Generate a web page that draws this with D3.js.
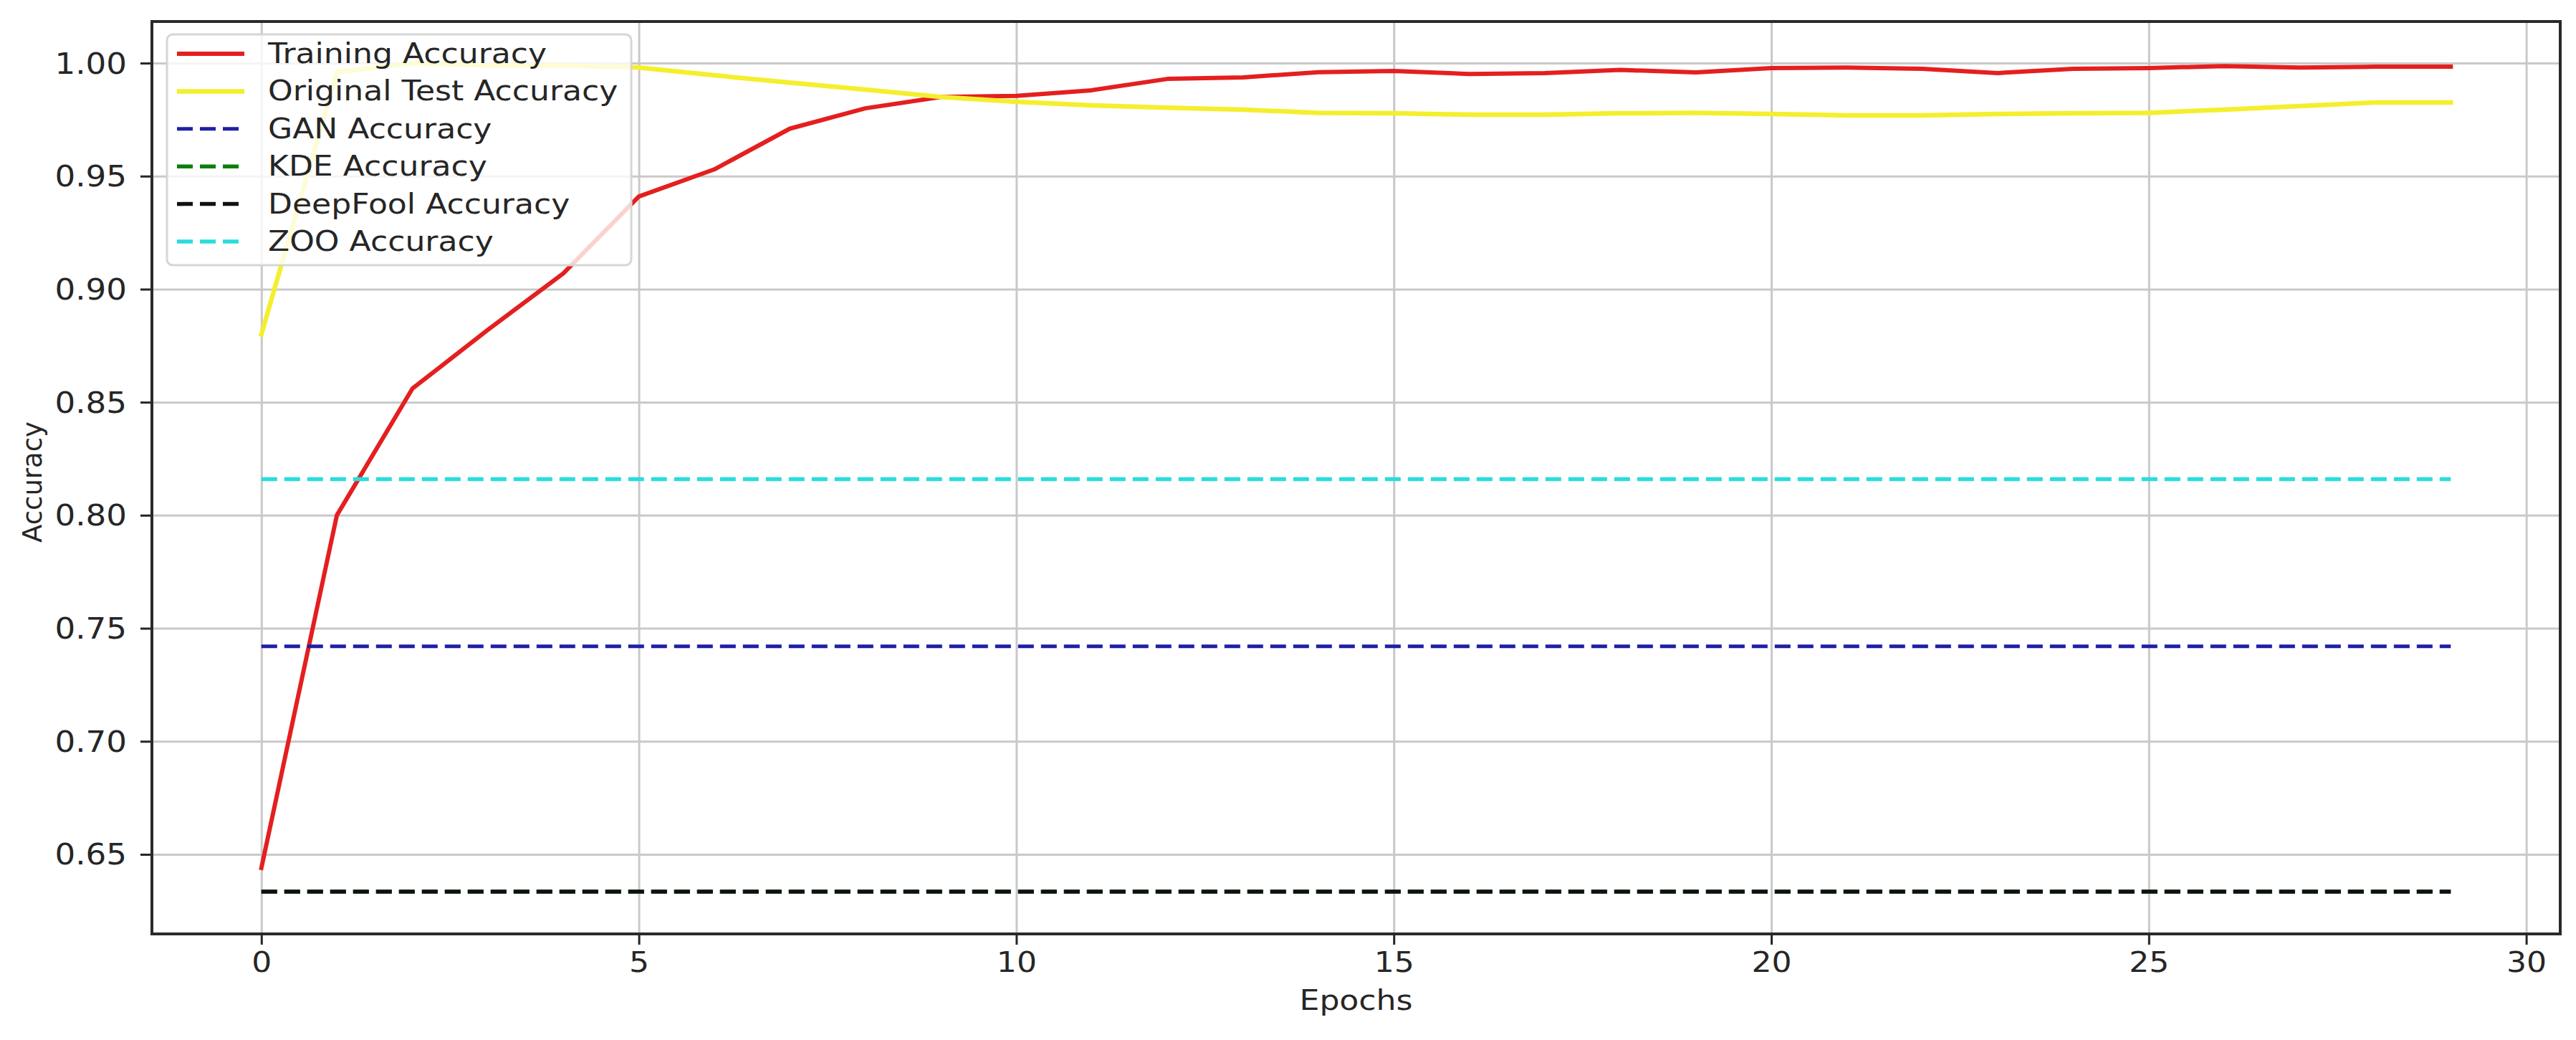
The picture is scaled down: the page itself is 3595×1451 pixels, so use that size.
<!DOCTYPE html>
<html>
<head>
<meta charset="utf-8">
<script src="https://cdn.jsdelivr.net/npm/d3@7"></script>
<style>
  html, body { margin: 0; padding: 0; background: #ffffff; }
  svg { display: block; }
  text { font-family: "DejaVu Sans", sans-serif; fill: #262626; }
</style>
</head>
<body>
<svg id="chart" width="3595" height="1451"></svg>
<script>
// ---------- DATA ----------
const epochs = [0,1,2,3,4,5,6,7,8,9,10,11,12,13,14,15,16,17,18,19,20,21,22,23,24,25,26,27,28,29];
const trainingAccuracy = [0.644, 0.800, 0.856, 0.882, 0.907, 0.941, 0.953, 0.971, 0.980, 0.985,
  0.9855, 0.988, 0.993, 0.9937, 0.996, 0.9965, 0.9952, 0.9956, 0.997, 0.9959,
  0.9978, 0.998, 0.9975, 0.9956, 0.9975, 0.9978, 0.9987, 0.998, 0.9984, 0.9984];
const originalTestAccuracy = [0.880, 0.996, 1.000, 0.999, 0.999, 0.998, 0.9946, 0.9914, 0.9883, 0.985,
  0.9829, 0.9813, 0.9803, 0.9794, 0.978, 0.9778, 0.9772, 0.9772, 0.9778, 0.978,
  0.9775, 0.9769, 0.9769, 0.9775, 0.9778, 0.978, 0.9794, 0.981, 0.9826, 0.9826];
const ganAccuracy = 0.742;
const kdeAccuracy = 0.6335;
const deepFoolAccuracy = 0.6335;
const zooAccuracy = 0.816;

const xTicks = [0, 5, 10, 15, 20, 25, 30];
const yTicks = [0.65, 0.70, 0.75, 0.80, 0.85, 0.90, 0.95, 1.00];
const xLabel = "Epochs";
const yLabel = "Accuracy";

const series = [
  { name: "Training Accuracy",      values: trainingAccuracy,                         color: "#e41f1f", dash: null, width: 6 },
  { name: "Original Test Accuracy", values: originalTestAccuracy,                     color: "#f4ef2e", dash: null, width: 6.5 },
  { name: "GAN Accuracy",           values: epochs.map(() => ganAccuracy),            color: "#1f1fa6", dash: "22,10", width: 5 },
  { name: "KDE Accuracy",           values: epochs.map(() => kdeAccuracy),            color: "#0a800a", dash: "22,10", width: 5.5 },
  { name: "DeepFool Accuracy",      values: epochs.map(() => deepFoolAccuracy),       color: "#111111", dash: "22,10", width: 5.5 },
  { name: "ZOO Accuracy",           values: epochs.map(() => zooAccuracy),            color: "#2adcdc", dash: "22,10", width: 5.5 }
];

// ---------- LAYOUT ----------
const L = 212, R = 3573, T = 30, B = 1303;
const SX = 1.13;      // horizontal glyph stretch seen in the reference
const FS = 39;

const svg = d3.select("#chart");
const x = d3.scaleLinear().domain([-1.45, 30.45]).range([L, R]);
const y = d3.scaleLinear().domain([0.6148, 1.0184]).range([B, T]);

// grid
const grid = svg.append("g");
grid.append("g")
  .attr("transform", `translate(0,${B})`)
  .call(d3.axisBottom(x).tickValues(xTicks).tickSize(-(B - T)).tickFormat(""))
  .call(g => g.select(".domain").remove())
  .call(g => g.selectAll("line").attr("stroke", "#c9c9c9").attr("stroke-width", 3));
grid.append("g")
  .attr("transform", `translate(${L},0)`)
  .call(d3.axisLeft(y).tickValues(yTicks).tickSize(-(R - L)).tickFormat(""))
  .call(g => g.select(".domain").remove())
  .call(g => g.selectAll("line").attr("stroke", "#c9c9c9").attr("stroke-width", 3));

// clip
svg.append("clipPath").attr("id", "plotclip")
  .append("rect").attr("x", L).attr("y", T).attr("width", R - L).attr("height", B - T);

// lines
const line = d3.line().x((d, i) => x(epochs[i])).y(d => y(d));
const plot = svg.append("g").attr("clip-path", "url(#plotclip)");
series.forEach(s => {
  plot.append("path")
    .datum(s.values)
    .attr("d", line)
    .attr("fill", "none")
    .attr("stroke", s.color)
    .attr("stroke-width", s.width)
    .attr("stroke-linejoin", "round")
    .attr("stroke-linecap", s.dash ? "butt" : "square")
    .attr("stroke-dasharray", s.dash);
});

// axes with ticks and labels
const xAxis = svg.append("g")
  .attr("transform", `translate(0,${B})`)
  .call(d3.axisBottom(x).tickValues(xTicks).tickSize(15).tickPadding(0).tickFormat(d3.format("d")));
xAxis.select(".domain").remove();
xAxis.selectAll("line").attr("stroke", "#262626").attr("stroke-width", 3);
xAxis.selectAll("text")
  .attr("font-size", FS)
  .attr("fill", "#262626")
  .attr("dy", null)
  .attr("y", null)
  .attr("transform", `translate(0,53) scale(${SX},1)`);

const yAxis = svg.append("g")
  .attr("transform", `translate(${L},0)`)
  .call(d3.axisLeft(y).tickValues(yTicks).tickSize(16).tickPadding(0).tickFormat(d3.format(".2f")));
yAxis.select(".domain").remove();
yAxis.selectAll("line").attr("stroke", "#262626").attr("stroke-width", 3);
yAxis.selectAll("text")
  .attr("font-size", FS + 1)
  .attr("fill", "#262626")
  .attr("x", null)
  .attr("dy", null)
  .attr("transform", `translate(-35,14) scale(${SX},1)`);

// frame (spines)
svg.append("rect")
  .attr("x", L).attr("y", T).attr("width", R - L).attr("height", B - T)
  .attr("fill", "none").attr("stroke", "#2a2a2a").attr("stroke-width", 4);

// axis labels
svg.append("text")
  .attr("transform", `translate(${(x(0) + x(29)) / 2},1409) scale(${SX},1)`)
  .attr("text-anchor", "middle")
  .attr("font-size", 39)
  .text(xLabel);
svg.append("text")
  .attr("transform", `translate(58,${(T + B) / 2 + 6}) scale(${SX * 0.9},1) rotate(-90)`)
  .attr("text-anchor", "middle")
  .attr("font-size", 37)
  .text(yLabel);

// legend
const lg = svg.append("g");
lg.append("rect")
  .attr("x", 233).attr("y", 48).attr("width", 648).attr("height", 322)
  .attr("rx", 8).attr("ry", 8)
  .attr("fill", "#ffffff").attr("fill-opacity", 0.8)
  .attr("stroke", "#d6d6d6").attr("stroke-width", 3);
const rowY = d3.scaleLinear().domain([0, series.length - 1]).range([75, 337]);
series.forEach((s, i) => {
  const cy = rowY(i);
  lg.append("line")
    .attr("x1", 247).attr("x2", 341).attr("y1", cy).attr("y2", cy)
    .attr("stroke", s.color).attr("stroke-width", s.width)
    .attr("stroke-dasharray", s.dash ? "22,10" : null);
  lg.append("text")
    .attr("transform", `translate(374,${cy + 13}) scale(${SX},1)`)
    .attr("font-size", FS)
    .text(s.name);
});
</script>
</body>
</html>
